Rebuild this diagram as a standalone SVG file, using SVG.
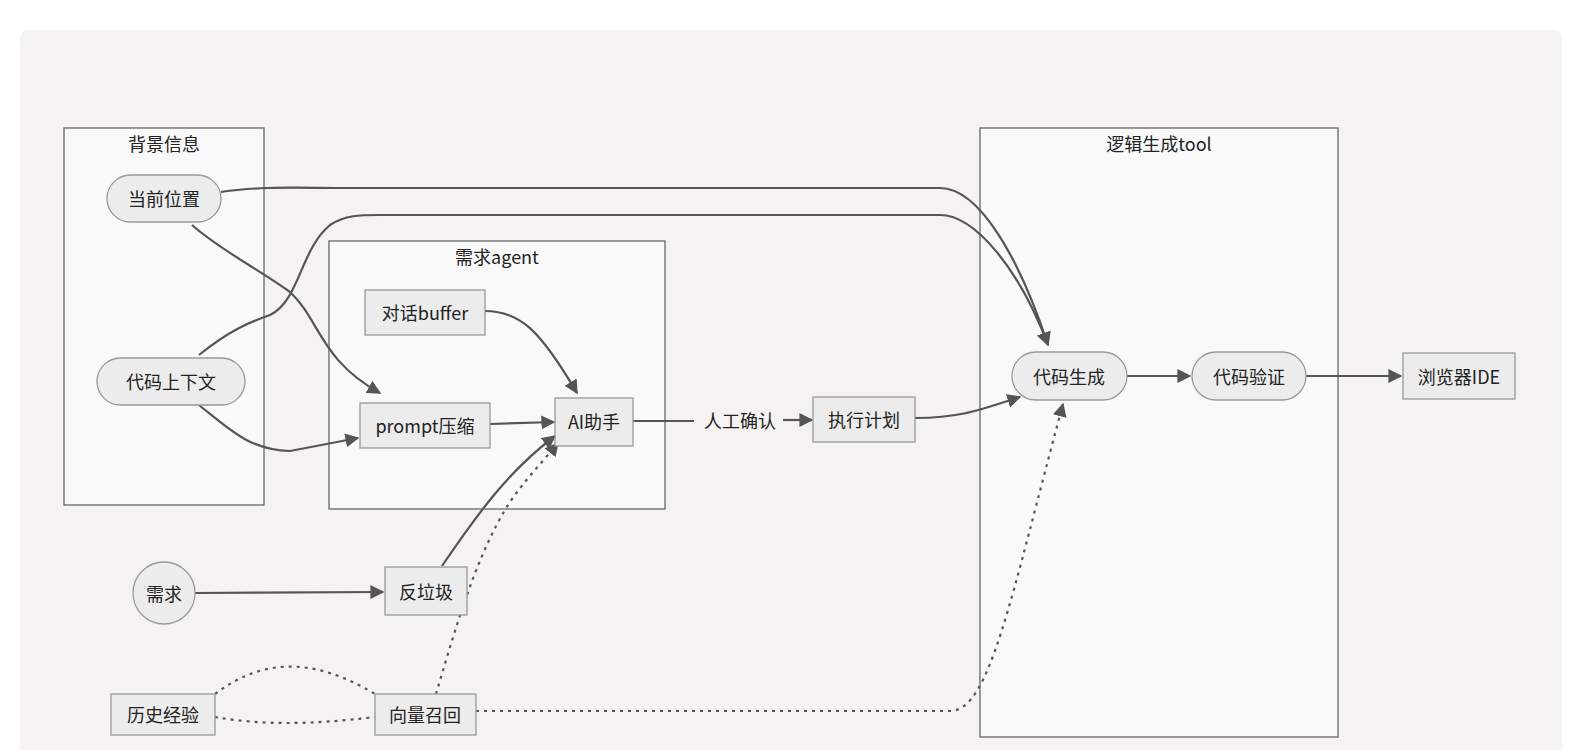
<svg xmlns="http://www.w3.org/2000/svg" width="1584" height="750" viewBox="0 0 1584 750">
<style>
.n{fill:#ececec;stroke:#999;stroke-width:1.3}
.c{fill:#f9f9f9;stroke:#666;stroke-width:1.3}
text{font-family:"Noto Sans CJK SC","Noto Sans",sans-serif;font-size:18px;fill:#222;text-anchor:middle;dominant-baseline:central}
.e{fill:none;stroke:#555;stroke-width:2.2}
.d{fill:none;stroke:#555;stroke-width:2.2;stroke-dasharray:3 5}
</style>
<defs><marker id="a" viewBox="0 0 10 10" refX="9" refY="5" markerWidth="6" markerHeight="6" orient="auto" markerUnits="userSpaceOnUse" ><path d="M0,0L10,5L0,10z" fill="#555"/></marker>
<marker id="b" viewBox="0 0 10 10" refX="9" refY="5" markerWidth="14" markerHeight="14" orient="auto" markerUnits="userSpaceOnUse"><path d="M0,0L10,5L0,10z" fill="#555"/></marker></defs>
<rect width="1584" height="750" fill="#fff"/>
<rect x="20" y="30" width="1542" height="730" rx="8" fill="#f4f3f2"/>
<g id="cl1"><rect class="c" x="64" y="128" width="200" height="377"/><text x="164" y="143">背景信息</text></g>
<g id="cl2"><rect class="c" x="329" y="241" width="336" height="268"/><text x="497" y="256">需求agent</text></g>
<g id="cl3"><rect class="c" x="980" y="128" width="358" height="609"/><text x="1159" y="143">逻辑生成tool</text></g>
<g id="edges">
<path class="e" marker-end="url(#b)" d="M221,192 C260,186 300,188 340,188 L940,188 C980,188 1020,260 1048,345"/>
<path class="e" marker-end="url(#b)" d="M199,355 C230,330 250,322 270,315 C300,300 300,250 330,225 C345,215 360,215 380,215 L940,215 C975,215 1020,270 1048,345"/>
<path class="e" marker-end="url(#b)" d="M192,225 C220,250 260,270 290,292 C320,320 320,360 380,393"/>
<path class="e" marker-end="url(#b)" d="M199,405 C230,430 250,450 290,451 L358,438"/>
<path class="e" marker-end="url(#b)" d="M485,311 C520,311 540,330 577,393"/>
<path class="e" marker-end="url(#b)" d="M490,424 L554,422"/>
<path class="e" d="M633,421 L694,421"/>
<text x="740" y="420">人工确认</text>
<path class="e" marker-end="url(#b)" d="M783,420 L812,420"/>
<path class="e" marker-end="url(#b)" d="M915,418 C960,418 980,410 1020,397"/>
<path class="e" marker-end="url(#b)" d="M1127,376 L1190,376"/>
<path class="e" marker-end="url(#b)" d="M1306,376 L1401,376"/>
<path class="e" marker-end="url(#b)" d="M195,593 L383,592"/>
<path class="e" marker-end="url(#b)" d="M442,566 C480,510 510,470 555,436"/>
<path class="d" marker-end="url(#b)" d="M436,694 C455,630 475,560 505,510 C520,485 540,465 558,443"/>
<path class="d" d="M215,694 C260,660 310,655 375,694"/>
<path class="d" d="M215,717 C260,725 310,725 375,717"/>
<path class="d" marker-end="url(#b)" d="M476,711 L950,711 C990,711 1010,600 1063,404"/>
</g>
<g id="n1"><rect class="n" x="107" y="175" width="114" height="47" rx="23.5"/><text x="164" y="198">当前位置</text></g>
<g id="n2"><rect class="n" x="97" y="358" width="148" height="47" rx="23.5"/><text x="171" y="381">代码上下文</text></g>
<g id="n3"><rect class="n" x="365" y="290" width="120" height="45"/><text x="425" y="312">对话buffer</text></g>
<g id="n4"><rect class="n" x="360" y="403" width="130" height="45"/><text x="425" y="425">prompt压缩</text></g>
<g id="n5"><rect class="n" x="555" y="398" width="78" height="48"/><text x="594" y="421">AI助手</text></g>
<g id="n6"><rect class="n" x="813" y="397" width="102" height="45"/><text x="864" y="419">执行计划</text></g>
<g id="n7"><circle class="n" cx="164" cy="593" r="31"/><text x="164" y="593">需求</text></g>
<g id="n8"><rect class="n" x="385" y="567" width="82" height="48"/><text x="426" y="591">反垃圾</text></g>
<g id="n9"><rect class="n" x="111" y="694" width="104" height="41"/><text x="163" y="714">历史经验</text></g>
<g id="n10"><rect class="n" x="375" y="694" width="101" height="41"/><text x="425" y="714">向量召回</text></g>
<g id="n11"><rect class="n" x="1012" y="352" width="115" height="48" rx="24"/><text x="1069" y="376">代码生成</text></g>
<g id="n12"><rect class="n" x="1192" y="352" width="114" height="48" rx="24"/><text x="1249" y="376">代码验证</text></g>
<g id="n13"><rect class="n" x="1403" y="353" width="112" height="46"/><text x="1459" y="376">浏览器IDE</text></g>
</svg>
